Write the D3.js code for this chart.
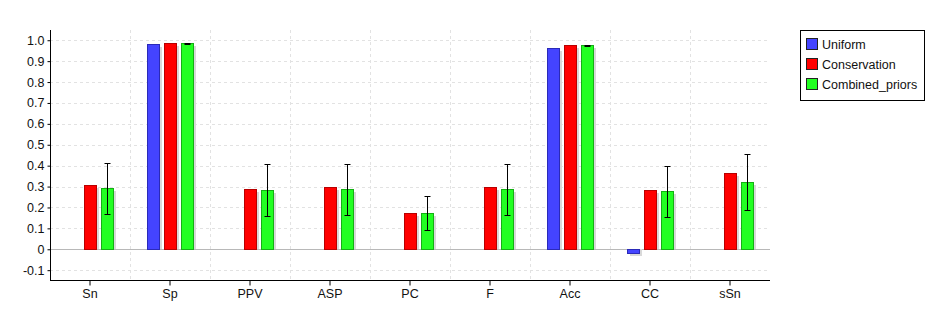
<!DOCTYPE html>
<html>
<head>
<meta charset="utf-8">
<script src="https://cdn.jsdelivr.net/npm/d3@7/dist/d3.min.js"></script>
<style>
  html, body { margin: 0; padding: 0; background: #fff; }
  svg { display: block; }
  text { font-family: "Liberation Sans", Arial, sans-serif; font-size: 12.5px; fill: #111; }
</style>
</head>
<body>
<svg id="chart" width="944" height="333"></svg>
<script>
const categories = ["Sn", "Sp", "PPV", "ASP", "PC", "F", "Acc", "CC", "sSn"];
const seriesNames = ["Uniform", "Conservation", "Combined_priors"];
const uniform = [null, 0.981, null, null, null, null, 0.962, -0.016, null];
const conservation = [0.306, 0.986, 0.287, 0.297, 0.174, 0.297, 0.976, 0.282, 0.364];
const combinedPriors = [0.292, 0.986, 0.282, 0.287, 0.174, 0.287, 0.976, 0.277, 0.322];
const combinedErr = [0.121, 0.002, 0.124, 0.122, 0.083, 0.122, 0.003, 0.122, 0.136];
const yTicks = [-0.1, 0, 0.1, 0.2, 0.3, 0.4, 0.5, 0.6, 0.7, 0.8, 0.9, 1.0];
const yTickLabels = ["-0.1", "0", "0.1", "0.2", "0.3", "0.4", "0.5", "0.6", "0.7", "0.8", "0.9", "1.0"];

const fills = ["#4444ff", "#ff0000", "#22ff22"];
const strokes = ["#2a2ab8", "#b80000", "#14b014"];

const svg = d3.select("#chart");
const L = 50, R = 770, T = 30, B = 280;

const x0 = d3.scaleBand().domain(categories).range([L, R]).padding(0);
const x1 = d3.scaleBand().domain(seriesNames).range([17.3, 63.7]).paddingInner(0.27).paddingOuter(0);
const y = d3.scaleLinear().domain([-0.147, 1.049]).range([B, T]);

// grid
const grid = svg.append("g");
grid.selectAll("line.h").data(yTicks.filter(v => v !== 0)).enter().append("line")
  .attr("x1", L).attr("x2", R)
  .attr("y1", d => Math.round(y(d)) + 0.5).attr("y2", d => Math.round(y(d)) + 0.5)
  .attr("stroke", "#e2e2e2").attr("stroke-dasharray", "3,3");
grid.selectAll("line.v").data(categories.slice(1)).enter().append("line")
  .attr("x1", d => Math.round(x0(d)) + 0.5).attr("x2", d => Math.round(x0(d)) + 0.5)
  .attr("y1", T).attr("y2", B)
  .attr("stroke", "#e2e2e2").attr("stroke-dasharray", "3,3");
// zero line
svg.append("line").attr("x1", L).attr("x2", R)
  .attr("y1", Math.round(y(0)) + 0.5).attr("y2", Math.round(y(0)) + 0.5)
  .attr("stroke", "#b8b8b8");

const seriesData = [uniform, conservation, combinedPriors];
const bars = [];
seriesData.forEach((arr, si) => {
  arr.forEach((v, ci) => {
    if (v === null) return;
    bars.push({ si, ci, v, s: seriesNames[si], c: categories[ci] });
  });
});

const y0px = Math.round(y(0));
function barGeom(d) {
  const xl = Math.round(x0(d.c) + x1(d.s));
  const w = Math.round(x1.bandwidth());
  const yv = Math.round(y(d.v));
  const top = Math.min(yv, y0px), bot = Math.max(yv, y0px);
  return { xl, w, top, bot };
}

// shadows
svg.append("g").selectAll("rect").data(bars).enter().append("rect")
  .attr("x", d => barGeom(d).xl + 3)
  .attr("y", d => d.v >= 0 ? barGeom(d).top + 3 : y0px)
  .attr("width", d => barGeom(d).w)
  .attr("height", d => d.v >= 0 ? Math.max(0, barGeom(d).bot - barGeom(d).top - 3) : barGeom(d).bot - y0px + 3)
  .attr("fill", "#d9d9d9");

// bars
svg.append("g").selectAll("rect").data(bars).enter().append("rect")
  .attr("x", d => barGeom(d).xl + 0.5)
  .attr("y", d => barGeom(d).top + 0.5)
  .attr("width", d => barGeom(d).w)
  .attr("height", d => barGeom(d).bot - barGeom(d).top)
  .attr("fill", d => fills[d.si])
  .attr("stroke", d => strokes[d.si]);

// error bars on Combined_priors
const eb = svg.append("g").attr("stroke", "#000").attr("stroke-width", 1);
categories.forEach((c, i) => {
  const cx = Math.round(x0(c) + x1("Combined_priors") + x1.bandwidth() / 2) + 0.5;
  const hi = Math.round(y(combinedPriors[i] + combinedErr[i])) + 0.5;
  const lo = Math.round(y(combinedPriors[i] - combinedErr[i])) + 0.5;
  eb.append("line").attr("x1", cx).attr("x2", cx).attr("y1", hi).attr("y2", lo);
  eb.append("line").attr("x1", cx - 3).attr("x2", cx + 3).attr("y1", hi).attr("y2", hi);
  eb.append("line").attr("x1", cx - 3).attr("x2", cx + 3).attr("y1", lo).attr("y2", lo);
});

// axes
const yAxis = d3.axisLeft(y).tickValues(yTicks).tickSize(3).tickPadding(3)
  .tickFormat((d, i) => yTickLabels[i]);
const gy = svg.append("g").attr("transform", `translate(${L + 0.5},0)`).call(yAxis);
gy.select(".domain").attr("d", `M0,${T}V${B}`).attr("stroke", "#000");
gy.selectAll(".tick line").attr("stroke", "#000");
gy.selectAll("text").attr("font-size", "12.5px").attr("font-family", null).style("fill", "#111");

const xAxis = d3.axisBottom(x0).tickSize(5).tickPadding(4);
const gx = svg.append("g").attr("transform", `translate(0,${B + 0.5})`).call(xAxis);
gx.select(".domain").attr("d", `M${L},0H${R}`).attr("stroke", "#000");
gx.selectAll(".tick line").attr("stroke", "#000");
gx.selectAll("text").attr("font-size", "12.5px").attr("font-family", null).style("fill", "#111");

// legend
const lg = svg.append("g");
lg.append("rect").attr("x", 800.5).attr("y", 30.5).attr("width", 124).attr("height", 70)
  .attr("fill", "#fff").attr("stroke", "#000");
seriesNames.forEach((s, i) => {
  lg.append("rect").attr("x", 806.5).attr("y", 38.5 + i * 20).attr("width", 11).attr("height", 11)
    .attr("fill", fills[i]).attr("stroke", "#222");
  lg.append("text").attr("x", 822).attr("y", 48.5 + i * 20).text(s);
});
</script>
</body>
</html>
